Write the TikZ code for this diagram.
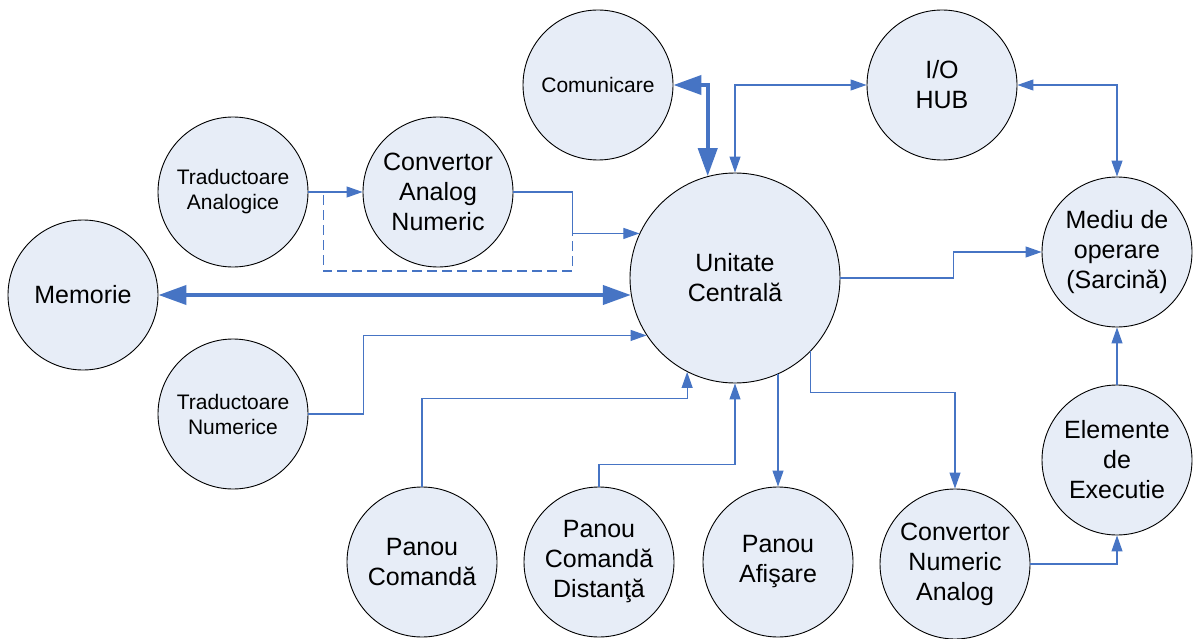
\documentclass[tikz,border=0pt]{standalone}
\usepackage{fontspec}
\setmainfont{Liberation Sans}
\usetikzlibrary{arrows.meta}
\definecolor{linkblue}{RGB}{70,116,196}
\definecolor{blobfill}{RGB}{231,237,247}

\begin{document}
\begin{tikzpicture}[x=1pt,y=-1pt,
    blob/.style={circle,draw=black,line width=0.9pt,fill=blobfill,minimum size=150pt,inner sep=0pt,align=center,font=\fontsize{25}{30}\selectfont},
    small/.style={font=\fontsize{21}{25}\selectfont},
    link/.style={draw=linkblue,line width=1.1pt,-{Triangle[length=16pt,width=11pt]}},
    both/.style={link,{Triangle[length=16pt,width=11pt]}-{Triangle[length=16pt,width=11pt]}},
    bus/.style={draw=linkblue,line width=4pt,{Triangle[length=28pt,width=19pt]}-{Triangle[length=28pt,width=19pt]}},
    dashlink/.style={draw=linkblue,line width=1.1pt,dash pattern=on 10pt off 5pt}]
    \useasboundingbox (0,0) rectangle (1196,639);
    \node[blob,small] at (598,85) (comm) {Comunicare};
    \node[blob] at (942,85) (hub) {I/O\\HUB};
    \node[blob,small] at (233,192) (ta) {Traductoare\\Analogice};
    \node[blob] at (438,192) (can) {Convertor\\Analog\\Numeric};
    \node[blob] at (1117,252) (mediu) {Mediu de\\operare\\(Sarcină)};
    \node[blob,minimum size=210pt] at (735,278) (uc) {Unitate\\Centrală};
    \node[blob] at (83,295) (mem) {Memorie};
    \node[blob,small] at (233,414) (tn) {Traductoare\\Numerice};
    \node[blob] at (1117,460) (exec) {Elemente\\de\\Executie};
    \node[blob] at (422,562) (cmd) {Panou\\Comandă};
    \node[blob] at (599,562) (dist) {Panou\\Comandă\\Distanţă};
    \node[blob] at (778,562) (afis) {Panou\\Afişare};
    \node[blob] at (955,564) (cna) {Convertor\\Numeric\\Analog};
    % magistrale
    \draw[bus] (comm.east) -| (uc.105);
    \draw[bus] (mem.east) -- (uc.189 |- mem.east);
    % legaturi
    \draw[both] (uc.north) |- (hub.west);
    \draw[both] (hub.east) -| (mediu.north);
    \draw[link] (uc.east) -- ++(113,0) |- (mediu.west);
    \draw[link] (exec.north) -- (mediu.south);
    \draw[link] (cna.east) -| (exec.south);
    \draw[link] (uc.-44) -- ++(0,41) -| (cna.north);
    \draw[link] (afis.north |- uc.-66) -- (afis.north);
    \draw[link] (dist.north) -- ++(0,-22) -| (uc.south);
    \draw[link] (cmd.north) -- ++(0,-88) -| (uc.-117);
    \draw[link] (tn.east) -- ++(55,0) |- (uc.-147);
    \draw[link] (ta.east) -- (can.west);
    \draw[link] (can.east) -- ++(59,0) coordinate (join) |- (uc.155);
    \draw[dashlink] (ta.east) ++(15,3) -- ++(0,76) -| (join |- uc.155);
\end{tikzpicture}
\end{document}
